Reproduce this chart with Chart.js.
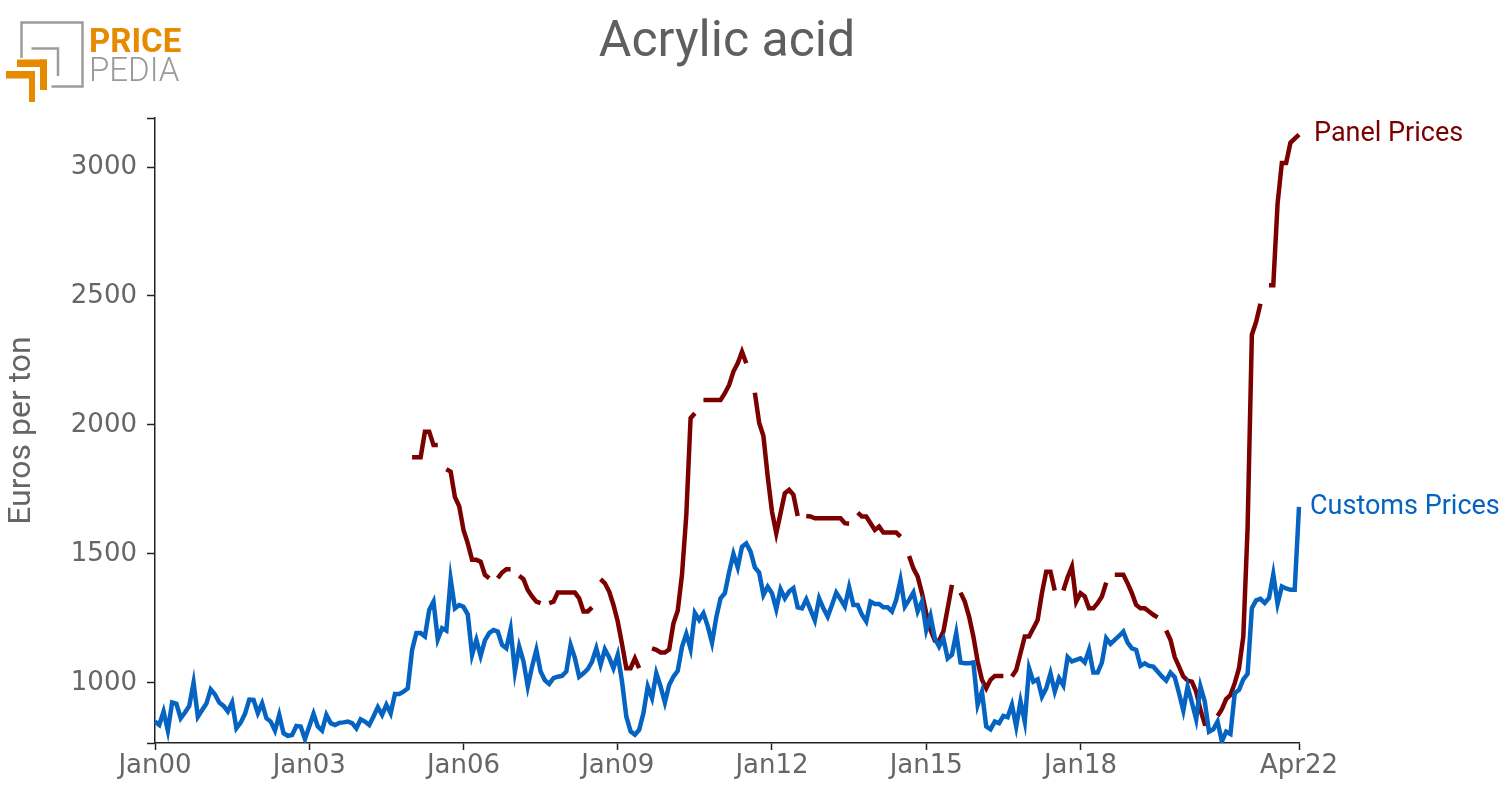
<!DOCTYPE html>
<html>
<head>
<meta charset="utf-8">
<script src="https://cdn.jsdelivr.net/npm/chart.js@4.4.0/dist/chart.umd.min.js"></script>
<style>
    html, body { margin: 0; padding: 0; background: #fff; }
    #wrap { width: 1510px; height: 791px; }
</style>
</head>
<body>
<div id="wrap"><canvas id="chart" width="1510" height="791"></canvas></div>
<script>
// monthly series, Jan 2000 .. Apr 2022 (one row per year)
const customsPrices = [
    850, 837, 889, 815, 924, 919, 863, 885, 911, 1001, 869, 895,
    920, 975, 955, 924, 911, 889, 924, 824, 846, 880, 935, 934,
    883, 921, 863, 850, 815, 876, 805, 795, 798, 833, 831, 782,
    831, 880, 831, 815, 876, 844, 837, 845, 847, 850, 844, 824,
    859, 850, 837, 870, 906, 876, 915, 882, 957, 957, 966, 979,
    1128, 1193, 1193, 1180, 1283, 1315, 1169, 1212, 1203, 1402, 1289, 1302,
    1295, 1265, 1109, 1167, 1105, 1165, 1193, 1205, 1199, 1147, 1134, 1208,
    1044, 1141, 1083, 986, 1063, 1128, 1044, 1010, 996, 1018, 1024, 1027,
    1044, 1147, 1096, 1024, 1037, 1053, 1083, 1134, 1070, 1130, 1099, 1057,
    1109, 1005, 870, 812, 799, 818, 883, 986, 941, 1037, 986, 924,
    992, 1024, 1047, 1140, 1190, 1132, 1271, 1244, 1270, 1220, 1156, 1254,
    1328, 1348, 1430, 1500, 1448, 1528, 1541, 1509, 1448, 1428, 1341, 1373,
    1348, 1286, 1363, 1328, 1354, 1367, 1293, 1289, 1324, 1283, 1242, 1328,
    1289, 1257, 1302, 1350, 1324, 1296, 1371, 1302, 1302, 1264, 1238, 1315,
    1306, 1306, 1293, 1293, 1277, 1322, 1399, 1296, 1322, 1350, 1277, 1315,
    1205, 1260, 1173, 1141, 1173, 1095, 1109, 1193, 1079, 1076, 1076, 1079,
    915, 966, 831, 820, 850, 844, 872, 867, 915, 831, 928, 850,
    1057, 1005, 1014, 947, 979, 1037, 966, 1018, 990, 1100, 1083, 1089,
    1095, 1079, 1128, 1040, 1040, 1079, 1173, 1151, 1167, 1182, 1199, 1156,
    1134, 1128, 1066, 1076, 1066, 1063, 1044, 1025, 1009, 1040, 1022, 960,
    893, 986, 924, 859, 986, 928, 811, 820, 850, 773, 811, 802,
    960, 973, 1014, 1035, 1290, 1320, 1326, 1310, 1329, 1421, 1307, 1374,
    1366, 1361, 1361, 1682
];

const panelPrices = [
    null, null, null, null, null, null, null, null, null, null, null, null,
    null, null, null, null, null, null, null, null, null, null, null, null,
    null, null, null, null, null, null, null, null, null, null, null, null,
    null, null, null, null, null, null, null, null, null, null, null, null,
    null, null, null, null, null, null, null, null, null, null, null, null,
    1875, 1875, 1875, 1974, 1974, 1922, 1922, null, 1828, 1819, 1720, 1685,
    1593, 1541, 1477, 1477, 1470, 1419, 1406, null, 1406, 1428, 1441, 1441,
    null, 1415, 1402, 1360, 1335, 1315, 1309, null, 1309, 1315, 1350, 1350,
    1350, 1350, 1350, 1328, 1277, 1277, 1293, null, 1402, 1386, 1354, 1302,
    1238, 1150, 1057, 1057, 1095, 1057, null, null, 1134, 1128, 1118, 1118,
    1130, 1231, 1280, 1420, 1650, 2026, 2045, null, 2097, 2097, 2097, 2097,
    2097, 2123, 2155, 2207, 2239, 2284, 2239, null, 2125, 2009, 1957, 1800,
    1664, 1580, 1658, 1735, 1748, 1729, 1647, null, 1647, 1645, 1638, 1638,
    1638, 1638, 1638, 1638, 1638, 1619, 1617, null, 1660, 1645, 1645, 1619,
    1593, 1606, 1583, 1583, 1583, 1583, 1567, null, 1492, 1444, 1412, 1348,
    1270, 1205, 1164, 1164, 1199, 1289, 1380, null, 1350, 1315, 1257, 1180,
    1083, 1012, 979, 1012, 1027, 1027, 1027, null, 1025, 1050, 1115, 1180,
    1180, 1212, 1244, 1348, 1431, 1431, 1358, null, 1358, 1410, 1451, 1315,
    1348, 1335, 1289, 1289, 1309, 1335, 1389, null, 1419, 1419, 1419, 1386,
    1348, 1302, 1289, 1289, 1277, 1264, 1254, null, 1203, 1167, 1100, 1063,
    1025, 1009, 1005, 966, 895, 841, 840, null, 872, 898, 937, 953,
    999, 1057, 1180, 1600, 2350, 2400, 2470, null, 2542, 2542, 2858, 3016,
    3016, 3094, 3110, 3126
];

const monthNames = ["Jan", "Feb", "Mar", "Apr", "May", "Jun", "Jul", "Aug", "Sep", "Oct", "Nov", "Dec"];
const xTickLabels = ["Jan00", "Jan03", "Jan06", "Jan09", "Jan12", "Jan15", "Jan18", "Apr22"];
const yTickValues = [1000, 1500, 2000, 2500, 3000];
const yMin = 767;
const yMax = 3190;

const categories = [];
for (let y = 2000; y <= 2022; y++) {
    for (let m = 0; m < 12; m++) {
        if (y === 2022 && m > 3) break;
        categories.push(monthNames[m] + String(y).slice(2));
    }
}

const endLabels = {
    id: "endLabels",
    afterDatasetsDraw(chart, args, opts) {
        const ctx = chart.ctx;
        chart.data.datasets.forEach((ds, i) => {
            const pts = chart.getDatasetMeta(i).data;
            const pt = pts[pts.length - 1];
            ctx.save();
            ctx.font = "27px Roboto";
            ctx.fillStyle = ds.borderColor;
            ctx.textBaseline = "middle";
            ctx.fillText(ds.label, pt.x + opts.gap[i], pt.y);
            ctx.restore();
        });
    }
};

const logo = {
    id: "logo",
    afterDraw(chart) {
        const ctx = chart.ctx;
        ctx.save();
        ctx.strokeStyle = "#9d9d9d";
        ctx.lineWidth = 2.5;
        ctx.beginPath();
        ctx.moveTo(21.5, 58); ctx.lineTo(21.5, 22.5); ctx.lineTo(82.5, 22.5);
        ctx.lineTo(82.5, 86.5); ctx.lineTo(51.5, 86.5);
        ctx.moveTo(31.5, 48.5); ctx.lineTo(58, 48.5); ctx.lineTo(58, 76);
        ctx.stroke();
        ctx.fillStyle = "#e68a00";
        ctx.fillRect(17, 59.5, 30, 7.5);
        ctx.fillRect(40, 59.5, 7, 30.5);
        ctx.fillRect(6, 71, 29, 7.5);
        ctx.fillRect(29, 71, 6, 31);
        ctx.font = "bold 33px Roboto";
        ctx.textBaseline = "alphabetic";
        ctx.fillText("PRICE", 89, 52);
        ctx.fillStyle = "#9a9a9a";
        ctx.font = "300 33px Roboto";
        ctx.fillText("PEDIA", 89, 81);
        ctx.restore();
    }
};

function draw() {
    new Chart(document.getElementById("chart"), {
        type: "line",
        data: {
            labels: categories,
            datasets: [
                { label: "Customs Prices", data: customsPrices, borderColor: "#0563c1", borderWidth: 4.5, pointRadius: 0, spanGaps: false, tension: 0 },
                { label: "Panel Prices", data: panelPrices, borderColor: "#7b0000", borderWidth: 4.5, pointRadius: 0, spanGaps: false, tension: 0 }
            ]
        },
        options: {
            responsive: false,
            animation: false,
            devicePixelRatio: 1,
            layout: { padding: { left: 0, right: 211, top: 0, bottom: 0 } },
            plugins: {
                legend: { display: false },
                tooltip: { enabled: false },
                title: {
                    display: true, text: "Acrylic acid", color: "#5f5f5f", fullSize: false,
                    font: { family: "Roboto", size: 50, weight: "normal" },
                    padding: { top: 13, bottom: 45 }
                },
                endLabels: { gap: [11, 15] }
            },
            scales: {
                x: {
                    type: "category",
                    offset: false,
                    grid: { drawOnChartArea: false, tickLength: 7, color: "#222", tickWidth: 1.5 },
                    border: { display: true, color: "#222", width: 1.5 },
                    ticks: { autoSkip: false, maxRotation: 0, padding: 1, color: "#666", font: { family: "DejaVu Sans", size: 26 } },
                    afterBuildTicks: scale => {
                        scale.ticks = categories.map((c, i) => xTickLabels.includes(c) ? { value: i } : null).filter(Boolean);
                    },
                    afterFit: scale => { scale.height = 48; }
                },
                y: {
                    min: yMin,
                    max: yMax,
                    grid: { drawOnChartArea: false, tickLength: 8, color: "#222", tickWidth: 1.5 },
                    border: { display: true, color: "#222", width: 1.5 },
                    ticks: {
                        padding: 10, color: "#666", font: { family: "DejaVu Sans", size: 26 },
                        callback: v => yTickValues.includes(v) ? String(v) : ""
                    },
                    title: {
                        display: true, text: "Euros per ton", color: "#666",
                        font: { family: "Roboto", size: 32 }, padding: { top: 3, bottom: 0 }
                    },
                    afterBuildTicks: scale => {
                        scale.ticks = [yMin, ...yTickValues, yMax].map(v => ({ value: v }));
                    },
                    afterFit: scale => { scale.width = 155; }
                }
            }
        },
        plugins: [endLabels, logo]
    });
}

Promise.all([
    document.fonts.load("27px Roboto"),
    document.fonts.load("bold 33px Roboto"),
    document.fonts.load("300 33px Roboto"),
    document.fonts.load("26px 'DejaVu Sans'")
]).then(draw, draw);
</script>
</body>
</html>
